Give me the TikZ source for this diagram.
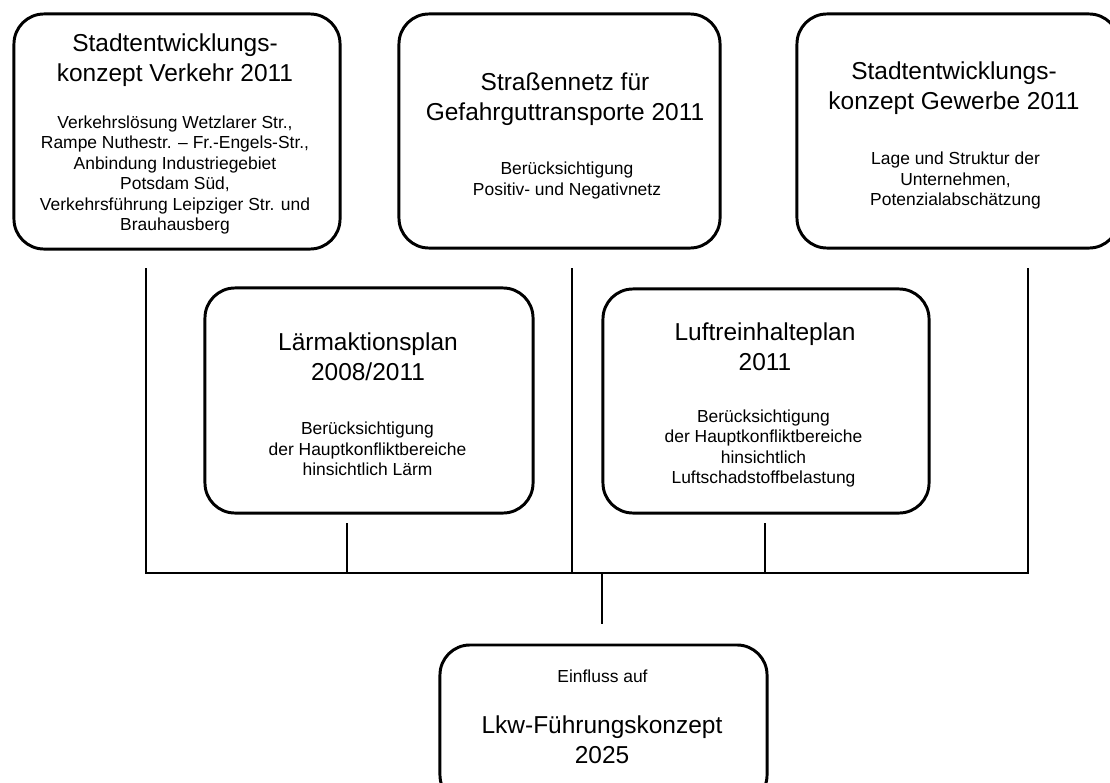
\documentclass[tikz,border=0pt]{standalone}
\usepackage{fontspec}
\setmainfont{Liberation Sans}
\usetikzlibrary{calc}

\tikzset{
  planbox/.style={draw, line width=2.1pt, rounded corners=0.75cm, inner sep=0pt},
  headtxt/.style={font=\fontsize{17.4}{21.3}\selectfont, align=center, inner sep=0pt},
  notetxt/.style={font=\fontsize{12.4}{14.6}\selectfont, align=center, inner sep=0pt},
  link/.style={line width=1.4pt},
}

\begin{document}
\begin{tikzpicture}[x=0.025cm, y=-0.025cm]

\useasboundingbox (0,0) rectangle (1110,782);

% ================================================================
% Top row: the three source concepts
% ================================================================
\node[planbox, minimum width=8.15cm, minimum height=5.875cm] (verkehr) at (177,131.5) {};
\node[planbox, minimum width=8.025cm, minimum height=5.85cm] (gefahr) at (559.5,131) {};
\node[planbox, minimum width=8.05cm, minimum height=5.85cm] (gewerbe) at (958,131) {};

\node[headtxt] (vk-head) at (175,60.5) {Stadtentwicklungs-\\konzept Verkehr 2011};
\node[notetxt] (vk-note) at (175,175)
  {Verkehrslösung Wetzlarer Str.,\\Rampe Nuthestr. – Fr.-Engels-Str.,\\Anbindung Industriegebiet\\Potsdam Süd,\\Verkehrsführung Leipziger Str. und\\Brauhausberg};

\node[headtxt] (gf-head) at (565,99) {Straßennetz für\\Gefahrguttransporte 2011};
\node[notetxt] (gf-note) at (567,180.5) {Berücksichtigung\\Positiv- und Negativnetz};

\node[headtxt] (gw-head) at (954,88.5) {Stadtentwicklungs-\\konzept Gewerbe 2011};
\node[notetxt] (gw-note) at (955.5,180.5) {Lage und Struktur der\\Unternehmen,\\Potenzialabschätzung};

% ================================================================
% Middle row: noise and air plans
% ================================================================
\node[planbox, minimum width=8.2cm, minimum height=5.625cm] (laerm) at (369,400.5) {};
\node[planbox, minimum width=8.15cm, minimum height=5.6cm] (luft) at (766,401) {};

\node[headtxt] (lm-head) at (368,357) {Lärmaktionsplan\\2008/2011};
\node[notetxt] (lm-note) at (367.5,449) {Berücksichtigung\\der Hauptkonfliktbereiche\\hinsichtlich Lärm};

\node[headtxt] (lu-head) at (765,346.5) {Luftreinhalteplan\\2011};
\node[notetxt] (lu-note) at (763.5,448.5) {Berücksichtigung\\der Hauptkonfliktbereiche\\hinsichtlich\\Luftschadstoffbelastung};

% ================================================================
% Bottom: target concept
% ================================================================
\node[planbox, minimum width=8.175cm, minimum height=4cm] (lkw) at (603.5,725) {};
\node[notetxt, anchor=base] (lk-top) at (602.5,682) {Einfluss auf};
\node[headtxt] (lk-head) at (602,740) {Lkw-Führungskonzept\\2025};

% ================================================================
% Collecting lines
% ================================================================
\coordinate (vk-tap) at (146,268);
\coordinate (gf-tap) at (572,268);
\coordinate (gw-tap) at (1028,268);
\coordinate (lm-tap) at (347,523);
\coordinate (lu-tap) at (765,523);
\coordinate (bus-e) at (1028,573);
\coordinate (bus-m) at (602,573);
\coordinate (lk-tap) at (602,624);

\draw[link] (vk-tap) |- (bus-e) -- (gw-tap);
\draw[link] (gf-tap) -- (gf-tap |- bus-e);
\draw[link] (lm-tap) -- (lm-tap |- bus-e);
\draw[link] (lu-tap) -- (lu-tap |- bus-e);
\draw[link] (bus-m) -- (lk-tap);

\end{tikzpicture}
\end{document}
